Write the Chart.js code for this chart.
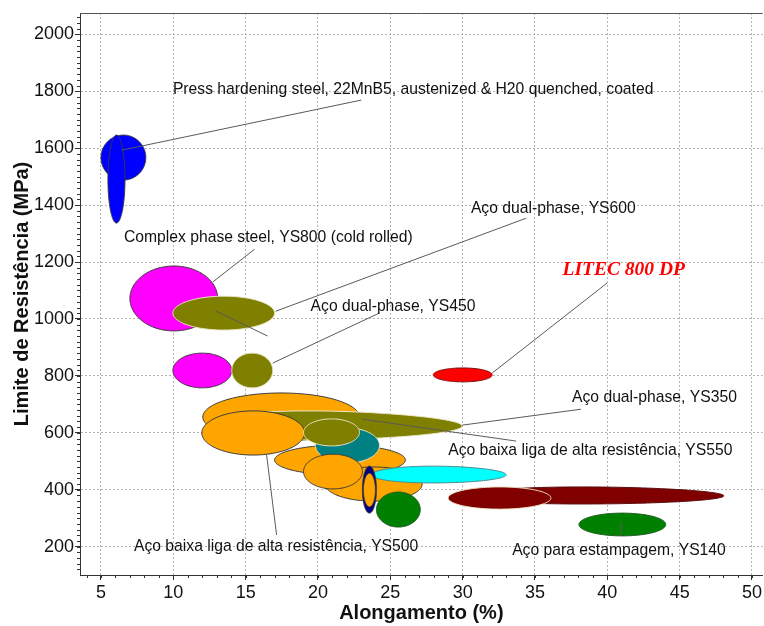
<!DOCTYPE html>
<html>
<head>
<meta charset="utf-8">
<script src="https://cdn.jsdelivr.net/npm/chart.js@4/dist/chart.umd.min.js"></script>
<style>
  html, body { margin: 0; padding: 0; background: #fff; }
  canvas { display: block; }
</style>
</head>
<body>
<canvas id="chart" width="764" height="626"></canvas>
<script>
"use strict";

// axis ticks
const xTicks = [5, 10, 15, 20, 25, 30, 35, 40, 45, 50];
const yTicks = [200, 400, 600, 800, 1000, 1200, 1400, 1600, 1800, 2000];

// property ranges per material family, drawn back to front
// elongation (%) and tensile strength (MPa)
const materials = [
  "Press hardening, round", "Press hardening, tall", "Complex phase YS800", "Dual-phase YS600",
  "Complex phase, small", "Dual-phase YS450", "LITEC 800 DP", "HSLA, large",
  "Dual-phase YS350", "HSLA YS500", "HSLA, medium", "HSLA, lower", "Teal grade",
  "HSLA YS550", "HSLA, small", "Cyan grade", "Navy grade", "Navy grade, core",
  "Green grade", "Maroon grade, long", "Maroon grade", "Estampagem YS140",
];
const elongMin = [5.0, 5.48, 7.0, 9.97, 9.97, 14.04, 27.97, 12.04, 12.5, 11.97, 17.0, 20.5, 19.83, 19.0, 19.0, 23.7, 23.07, 23.14, 24.04, 30.5, 29.0, 38.04];
const elongMax = [8.1, 6.66, 13.07, 17.0, 14.04, 16.87, 32.04, 22.87, 29.97, 19.07, 26.04, 27.2, 24.25, 22.87, 23.07, 33.0, 24.04, 23.97, 27.07, 48.05, 36.1, 44.04];
const tsMin = [1488, 1337, 958, 961, 758, 758, 779, 571, 575, 522, 452, 360, 494, 554, 403, 424, 318, 340, 269, 350, 332, 238];
const tsMax = [1646, 1646, 1186, 1080, 880, 880, 828, 740, 677, 677, 557, 480, 617, 649, 525, 483, 483, 458, 392, 410, 410, 318];

const fills = [
  "#0000ff", "#0000ff", "#ff00ff", "#808000", "#ff00ff", "#808000", "#ff0000", "#ffa500",
  "#808000", "#ffa500", "#ffa500", "#ffa500", "#008080", "#808000", "#ffa500", "#00ffff",
  "#000080", "#ffa500", "#008000", "#800000", "#800000", "#008000",
];
const DARK = "#3a3a3a";
const LIGHT = "#ebe6c6";
const edges = [
  DARK, DARK, DARK, LIGHT, DARK, LIGHT, "#7a1010", DARK,
  LIGHT, DARK, DARK, DARK, LIGHT, LIGHT, DARK, "#4a8a8a",
  DARK, DARK, "#1f5a1f", "#5a1010", LIGHT, "#1f5a1f",
];
// long ranges are traced in log space, which gives them a tapered tail
const tapered = [
  false, false, false, false, false, false, false, false,
  true, false, false, false, false, false, false, true,
  false, false, false, true, false, false,
];

// labels with leader lines, anchored in data units
const noteText = [
  "Press hardening steel, 22MnB5, austenized & H20 quenched, coated",
  "Complex phase steel, YS800 (cold rolled)",
  "Aço dual-phase, YS600",
  "Aço dual-phase, YS450",
  "LITEC 800 DP",
  "Aço dual-phase, YS350",
  "Aço baixa liga de alta resistência, YS550",
  "Aço baixa liga de alta resistência, YS500",
  "Aço para estampagem, YS140",
  "",
];
const noteX = [9.97, 6.59, 30.57, 19.49, 36.9, 37.56, 29.0, 7.28, 33.42, null];
const noteY = [1804, 1284, 1389, 1042, 1171, 722, 536, 199, 185, null];
const leaderFrom = [[6.45, 1593], [12.73, 1130], [17.07, 1027], [16.87, 845], [32.04, 810], [29.97, 627], [23.07, 648], [16.45, 522], [40.94, 287], [12.93, 1028]];
const leaderTo = [[23.0, 1769], [15.62, 1245], [34.39, 1354], [24.25, 1021], [39.98, 1126], [38.18, 683], [33.7, 571], [17.14, 241], [40.94, 238], [16.52, 940]];

const FONT = "'Liberation Sans', Arial, sans-serif";

function traceBubble(ctx, xs, ys, x0, x1, y0, y1, logShape) {
  const f = logShape ? Math.log : (v) => v;
  const g = logShape ? Math.exp : (v) => v;
  const cx = (f(x0) + f(x1)) / 2, rx = (f(x1) - f(x0)) / 2;
  const cy = (f(y0) + f(y1)) / 2, ry = (f(y1) - f(y0)) / 2;
  const n = 160;
  ctx.beginPath();
  for (let i = 0; i <= n; i++) {
    const t = (i / n) * Math.PI * 2;
    const px = xs.getPixelForValue(g(cx + rx * Math.cos(t)));
    const py = ys.getPixelForValue(g(cy + ry * Math.sin(t)));
    if (i === 0) ctx.moveTo(px, py);
    else ctx.lineTo(px, py);
  }
  ctx.closePath();
}

const bubbles = {
  id: "bubbles",
  afterDatasetsDraw(chart) {
    const { ctx, scales: { x, y } } = chart;
    ctx.save();
    ctx.lineWidth = 1;
    materials.forEach((_, i) => {
      traceBubble(ctx, x, y, elongMin[i], elongMax[i], tsMin[i], tsMax[i], tapered[i]);
      ctx.fillStyle = fills[i];
      ctx.fill();
      ctx.strokeStyle = edges[i];
      ctx.stroke();
    });
    ctx.restore();
  },
};

const notes = {
  id: "notes",
  afterDatasetsDraw(chart) {
    const { ctx, scales: { x, y } } = chart;
    ctx.save();
    ctx.strokeStyle = "#5a5a5a";
    ctx.lineWidth = 1;
    leaderFrom.forEach((p, i) => {
      ctx.beginPath();
      ctx.moveTo(x.getPixelForValue(p[0]), y.getPixelForValue(p[1]));
      ctx.lineTo(x.getPixelForValue(leaderTo[i][0]), y.getPixelForValue(leaderTo[i][1]));
      ctx.stroke();
    });
    ctx.textAlign = "left";
    ctx.textBaseline = "middle";
    noteText.forEach((t, i) => {
      if (!t) return;
      const litec = t.startsWith("LITEC");
      ctx.font = litec ? "italic bold 19.5px 'Liberation Serif', 'Times New Roman', serif" : "15.7px " + FONT;
      ctx.fillStyle = litec ? "#ff0000" : "#111";
      ctx.fillText(t, x.getPixelForValue(noteX[i]), y.getPixelForValue(noteY[i]));
    });
    ctx.restore();
  },
};

// frame top edge and the small minor ticks on both axes
const frame = {
  id: "frame",
  afterDraw(chart) {
    const { ctx, chartArea: a, scales: { x, y } } = chart;
    ctx.save();
    ctx.strokeStyle = "#555";
    ctx.lineWidth = 1;
    ctx.beginPath();
    ctx.moveTo(a.left, a.top + 0.5);
    ctx.lineTo(a.right, a.top + 0.5);
    ctx.stroke();
    ctx.strokeStyle = "#333";
    ctx.beginPath();
    for (let v = Math.ceil(x.min); v <= x.max; v++) {
      const px = Math.round(x.getPixelForValue(v)) + 0.5;
      ctx.moveTo(px, a.bottom);
      ctx.lineTo(px, a.bottom + 3);
    }
    for (let v = Math.ceil(y.min / 20) * 20; v <= y.max; v += 20) {
      const py = Math.round(y.getPixelForValue(v)) + 0.5;
      ctx.moveTo(a.left, py);
      ctx.lineTo(a.left - 3, py);
    }
    ctx.stroke();
    ctx.restore();
  },
};

const gridOpts = { color: "#b4b4b4", tickColor: "#333", tickLength: 5, lineWidth: 1 };
const borderOpts = { color: "#333", width: 1, dash: [2, 2] };

new Chart(document.getElementById("chart"), {
  type: "scatter",
  data: { datasets: [] },
  options: {
    responsive: false,
    animation: false,
    devicePixelRatio: 1,
    layout: { padding: { top: 13, left: 0, right: 0, bottom: 0 } },
    plugins: { legend: { display: false }, tooltip: { enabled: false } },
    scales: {
      x: {
        type: "linear",
        min: 3.55,
        max: 50.74,
        afterBuildTicks: (s) => { s.ticks = xTicks.map((v) => ({ value: v })); },
        afterFit: (s) => { s.height = 51; },
        grid: gridOpts,
        border: borderOpts,
        ticks: { color: "#111", padding: 2, maxRotation: 0, font: { family: FONT, size: 18 }, callback: (v) => String(v) },
        title: { display: true, text: "Alongamento (%)", color: "#111", padding: { top: 0, bottom: 1 }, font: { family: FONT, size: 20, weight: "bold" } },
      },
      y: {
        type: "linear",
        min: 100.6,
        max: 2074.8,
        afterBuildTicks: (s) => { s.ticks = yTicks.map((v) => ({ value: v })); },
        afterFit: (s) => { s.width = 80; },
        grid: gridOpts,
        border: borderOpts,
        ticks: { color: "#111", padding: 1, font: { family: FONT, size: 18 }, callback: (v) => String(v) },
        title: { display: true, text: "Limite de Resistência (MPa)", color: "#111", padding: { top: 10, bottom: 0 }, font: { family: FONT, size: 20, weight: "bold" } },
      },
    },
  },
  plugins: [bubbles, notes, frame],
});
</script>
</body>
</html>
